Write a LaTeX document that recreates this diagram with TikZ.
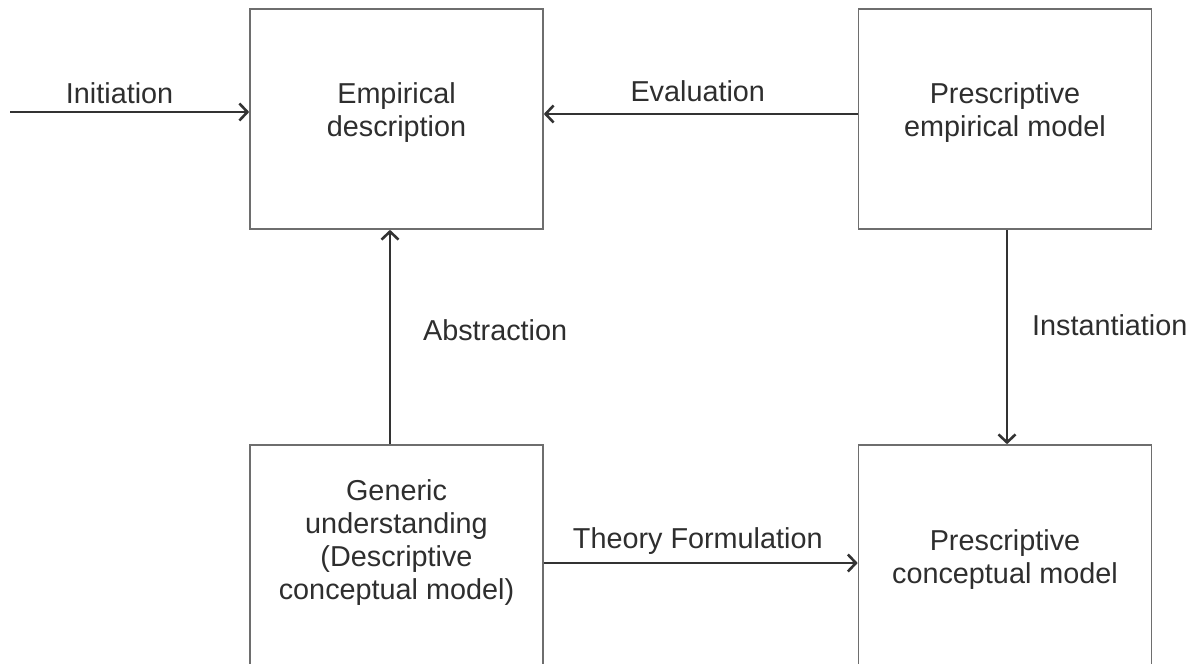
\documentclass[tikz,border=0pt]{standalone}
\usepackage{fontspec}
\setmainfont{Liberation Sans}
\usetikzlibrary{arrows.meta}
\definecolor{boxgray}{HTML}{6E6E6E}
\definecolor{linegray}{HTML}{333333}
\definecolor{textgray}{HTML}{2E2E2E}
\begin{document}
\begin{tikzpicture}[x=1pt,y=-1pt,
	box/.style={draw=boxgray,line width=1.6pt,minimum width=293pt,inner sep=0pt},
	txt/.style={text=textgray,align=center,font=\fontsize{28.8}{33}\selectfont},
	lbl/.style={text=textgray,inner sep=0pt,font=\fontsize{28.8}{33}\selectfont},
	flow/.style={draw=linegray,line width=2.2pt,-{Straight Barb[length=8pt,width=17pt,line width=2.6pt]}}]
		\useasboundingbox (0,0) rectangle (1195,664);
		\clip (0,0) rectangle (1195,664);
		
		%boxes
		\node[box,minimum height=220pt] (ed) at (396.5,119) {};
		\node[box,minimum height=220pt] (pem) at (1005,119) {};
		\node[box,minimum height=236pt] (gu) at (396.5,563) {};
		\node[box,minimum height=236pt] (pcm) at (1005,563) {};
		
		%box texts
		\node[txt] (edtext) at ([yshift=6pt]ed.center) {Empirical\\description};
		\node[txt] (pemtext) at ([yshift=6pt]pem.center) {Prescriptive\\empirical model};
		\node[txt] (gutext) at ([yshift=20pt]gu.center) {Generic\\understanding\\(Descriptive\\conceptual model)};
		\node[txt] (pcmtext) at ([yshift=3pt]pcm.center) {Prescriptive\\conceptual model};
		
		%arrows
		\coordinate (start) at (10,112);
		\draw[flow] (start) -- (start -| ed.west) node[lbl,midway,above=7pt,xshift=-10pt] {Initiation};
		\draw[flow] ([yshift=5pt]pem.west) -- ([yshift=5pt]ed.east) node[lbl,midway,above=11pt,xshift=-3pt] {Evaluation};
		\draw[flow] ([xshift=-6.5pt]gu.north) -- ([xshift=-6.5pt]ed.south) node[lbl,midway,right=32pt,yshift=7pt] {Abstraction};
		\draw[flow] ([xshift=2pt]pem.south) -- ([xshift=2pt]pcm.north) node[lbl,midway,right=24pt,yshift=12pt] {Instantiation};
		\draw[flow] (gu.east) -- (pcm.west) node[lbl,midway,above=7pt,xshift=-3pt] {Theory Formulation};
\end{tikzpicture}
\end{document}
